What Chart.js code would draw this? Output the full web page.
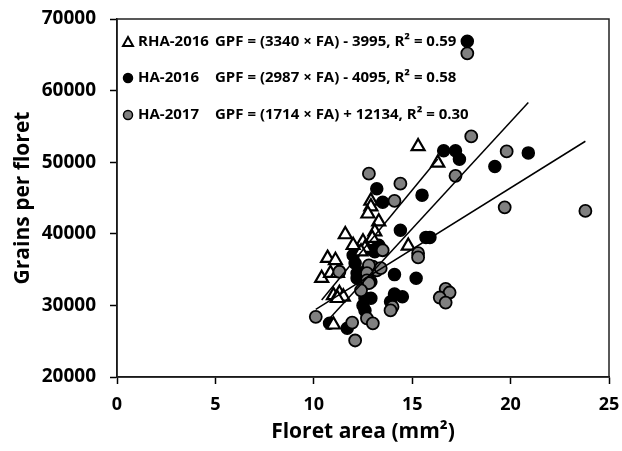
<!DOCTYPE html>
<html>
<head>
<meta charset="utf-8">
<script src="https://cdn.jsdelivr.net/npm/chart.js@4.4.1/dist/chart.umd.min.js"></script>
<style>
  html, body { margin: 0; padding: 0; background: #fff; }
  #wrap { width: 622px; height: 451px; }
</style>
</head>
<body>
<div id="wrap"><canvas id="chart" width="622" height="451"></canvas></div>
<script>
// ===== DATA =====
const seriesNames = ['RHA-2016', 'HA-2016', 'HA-2017'];
const equations = [
    'GPF = (3340 × FA) - 3995, R² = 0.59',
    'GPF = (2987 × FA) - 4095, R² = 0.58',
    'GPF = (1714 × FA) + 12134, R² = 0.30'
];
const slopes = [3340, 2987, 1714];
const intercepts = [-3995, -4095, 12134];

const xTicks = [0, 5, 10, 15, 20, 25];
const yTicks = [20000, 30000, 40000, 50000, 60000, 70000];

// RHA-2016 (open triangles)
const rhaArea = [15.3, 16.3, 14.8, 12.9, 12.9, 12.75, 13.3, 13.1, 12.97, 11.6, 12.5, 12.6, 12.4,
                 10.7, 11.1, 10.4, 10.85, 11.2, 11.0, 11.3, 11.5, 11.2, 11.0, 12.0];
const rhaGrains = [52200, 49900, 38300, 44600, 43800, 42800, 41700, 40300, 39400, 39900, 38900, 38000, 37500,
                   36600, 36300, 33800, 34500, 34500, 31400, 31700, 31200, 31000, 27300, 38400];

// HA-2016 (black circles)
const ha16Area = [17.8, 16.6, 17.2, 17.4, 20.9, 19.2, 15.5, 14.4, 15.7, 15.9, 15.2, 14.5, 14.1, 13.9,
                  14.1, 13.2, 13.5, 13.3, 13.0, 12.9, 12.6, 12.9, 12.5, 12.6, 12.0, 12.1, 12.2, 12.6,
                  12.2, 10.8, 11.7, 13.1];
const ha16Grains = [66900, 51600, 51600, 50400, 51300, 49400, 45400, 40500, 39500, 39500, 33800, 31200, 31600, 30500,
                    34300, 46300, 44400, 38400, 37700, 33300, 31000, 31000, 30000, 29300, 37000, 35900, 34500, 34700,
                    33800, 27500, 26800, 37500];

// HA-2017 (grey circles)
const ha17Area = [17.8, 18.0, 19.8, 17.2, 14.4, 12.8, 14.1, 19.7, 23.8, 15.3, 15.3, 16.7, 16.9, 16.4,
                  16.7, 13.5, 13.0, 13.2, 13.4, 12.8, 12.7, 12.7, 12.8, 12.4, 11.3, 10.1, 11.95, 12.7,
                  13.0, 12.1, 14.0, 13.9];
const ha17Grains = [65200, 53600, 51500, 48100, 47000, 48400, 44600, 43700, 43200, 37300, 36700, 32300, 31800, 31100,
                    30400, 37700, 35400, 34900, 35200, 35600, 34500, 33500, 33100, 32100, 34700, 28400, 27600, 28200,
                    27500, 25100, 29800, 29300];

// ===== HELPERS =====
const toPoints = (xs, ys) => xs.map((x, i) => ({ x: x, y: ys[i] }));
function fitLine(xs, k) {
    const lo = Math.min(...xs), hi = Math.max(...xs);
    return [lo, hi].map(x => ({ x: x, y: slopes[k] * x + intercepts[k] }));
}

const FONT = "'Open Sans', 'DejaVu Sans', sans-serif";

// frame around the plot + in-plot legend
const framePlugin = {
    id: 'frame',
    afterDatasetsDraw(chart) {
        const { ctx, chartArea: a } = chart;
        ctx.save();
        ctx.strokeStyle = '#222';
        ctx.lineWidth = 1.5;
        ctx.strokeRect(a.left, a.top, a.right - a.left, a.bottom - a.top);

        // legend
        const rows = [42, 78, 115];
        ctx.font = 'bold 15px ' + FONT;
        ctx.textBaseline = 'middle';
        rows.forEach((ry, i) => {
            const mx = 128;
            ctx.lineWidth = 1.5;
            ctx.strokeStyle = '#000';
            if (i === 0) {
                ctx.beginPath();
                ctx.moveTo(mx, ry - 5);
                ctx.lineTo(mx + 5, ry + 4);
                ctx.lineTo(mx - 5, ry + 4);
                ctx.closePath();
                ctx.fillStyle = '#fff';
                ctx.fill();
                ctx.lineWidth = 2;
                ctx.stroke();
            } else {
                ctx.beginPath();
                ctx.arc(mx, ry, 4.5, 0, Math.PI * 2);
                ctx.fillStyle = i === 1 ? '#000' : '#808080';
                ctx.fill();
                ctx.stroke();
            }
            ctx.fillStyle = '#000';
            ctx.textAlign = 'left';
            ctx.fillText(seriesNames[i], 138, ry);
            ctx.fillText(equations[i], 215, ry);
        });
        ctx.restore();
    }
};

// ===== CHART =====
const ctx = document.getElementById('chart').getContext('2d');
new Chart(ctx, {
    type: 'scatter',
    data: {
        datasets: [
            {
                label: seriesNames[0] + ' fit', data: fitLine(rhaArea, 0), showLine: true,
                borderColor: '#000', borderWidth: 1.5, pointRadius: 0, order: 0
            },
            {
                label: seriesNames[1] + ' fit', data: fitLine(ha16Area, 1), showLine: true,
                borderColor: '#000', borderWidth: 1.5, pointRadius: 0, order: 0
            },
            {
                label: seriesNames[2] + ' fit', data: fitLine(ha17Area, 2), showLine: true,
                borderColor: '#000', borderWidth: 1.5, pointRadius: 0, order: 0
            },
            {
                label: seriesNames[2], data: toPoints(ha17Area, ha17Grains),
                pointStyle: 'circle', pointRadius: 6, backgroundColor: '#808080',
                borderColor: '#000', borderWidth: 1.8, order: 1
            },
            {
                label: seriesNames[0], data: toPoints(rhaArea, rhaGrains),
                pointStyle: 'triangle', pointRadius: 7.5, backgroundColor: '#fff',
                borderColor: '#000', borderWidth: 2.2, order: 2
            },
            {
                label: seriesNames[1], data: toPoints(ha16Area, ha16Grains),
                pointStyle: 'circle', pointRadius: 6, backgroundColor: '#000',
                borderColor: '#000', borderWidth: 1.5, order: 3
            }
        ]
    },
    options: {
        responsive: false,
        animation: false,
        events: [],
        layout: { padding: { top: 19, right: 13, bottom: 6, left: 0 } },
        plugins: { legend: { display: false }, tooltip: { enabled: false } },
        scales: {
            x: {
                type: 'linear', min: xTicks[0], max: xTicks[xTicks.length - 1],
                afterBuildTicks: s => { s.ticks = xTicks.map(v => ({ value: v })); },
                afterFit: s => { s.height = 451 - 377 - 6; s.paddingRight = 0; s.paddingLeft = 0; },
                grid: { drawOnChartArea: false, drawTicks: true, tickLength: 7, tickColor: '#000', tickWidth: 1.5 },
                border: { color: '#000', width: 1.5 },
                ticks: { color: '#000', padding: 10, font: { family: FONT, size: 18, weight: 'bold' } },
                title: {
                    display: true, text: 'Floret area (mm²)', color: '#000',
                    font: { family: FONT, size: 21, weight: 'bold' }, padding: { top: 0, bottom: 0 }
                }
            },
            y: {
                type: 'linear', min: yTicks[0], max: yTicks[yTicks.length - 1],
                afterBuildTicks: s => { s.ticks = yTicks.map(v => ({ value: v })); },
                afterFit: s => { s.width = 117; s.paddingTop = 0; s.paddingBottom = 0; },
                grid: { drawOnChartArea: false, drawTicks: true, tickLength: 7, tickColor: '#000', tickWidth: 1.5 },
                border: { color: '#000', width: 1.5 },
                ticks: { color: '#000', padding: 14, callback: v => String(v), font: { family: FONT, size: 19, weight: 'bold' } },
                title: {
                    display: true, text: 'Grains per floret', color: '#000',
                    font: { family: FONT, size: 21, weight: 'bold' }, padding: { top: 10, bottom: 0 }
                }
            }
        }
    },
    plugins: [framePlugin]
});
</script>
</body>
</html>
